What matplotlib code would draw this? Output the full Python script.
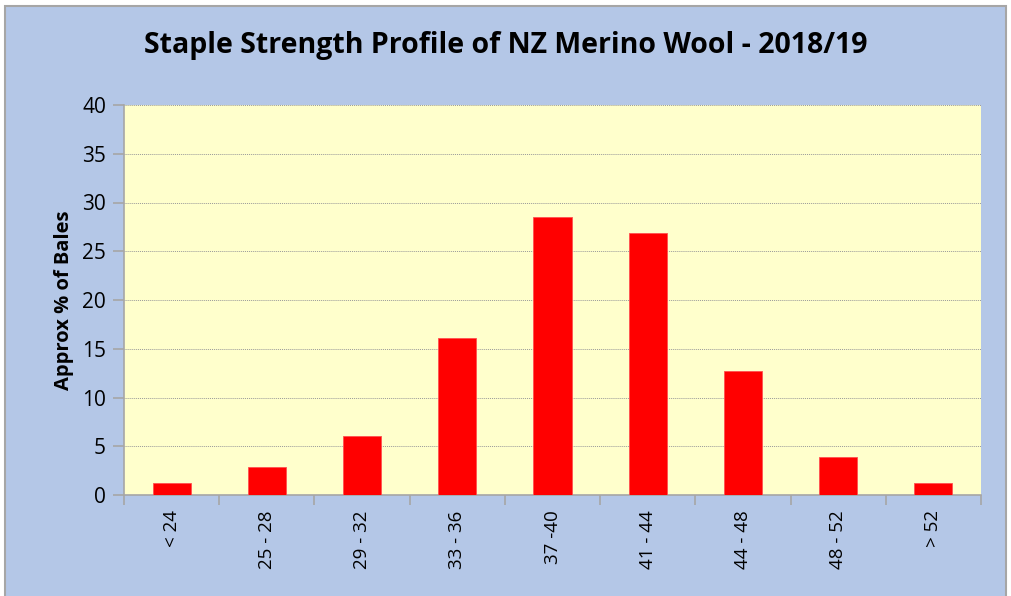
import matplotlib
matplotlib.use('Agg')
import matplotlib.pyplot as plt
from matplotlib.patches import Rectangle
import numpy as np

plt.rcParams['font.family'] = ['Open Sans', 'DejaVu Sans']

# data
categories = ['< 24', '25 - 28', '29 - 32', '33 - 36', '37 -40', '41 - 44', '44 - 48', '48 - 52', '> 52']
pct_bales = [1.2, 2.9, 6.1, 16.1, 28.5, 26.9, 12.7, 3.9, 1.2]
title = 'Staple Strength Profile of NZ Merino Wool - 2018/19'
y_label = 'Approx % of Bales'

my_dpi = 100
fig = plt.figure(figsize=(1011/my_dpi, 596/my_dpi), dpi=my_dpi, facecolor='white')

# blue chart area with grey frame
frame = Rectangle((5/1011, -0.01), 1001/1011, (590 + 6)/596, transform=fig.transFigure,
                  facecolor='#B4C7E7', edgecolor='#A6A6A6', linewidth=1.5, zorder=-5)
fig.patches.append(frame)

ax = fig.add_axes([124/1011, 101/596, 857/1011, 390/596])
ax.set_zorder(2)
ax.set_facecolor('#FFFFCC')

x = np.arange(len(categories))
ax.bar(x, pct_bales, width=0.4, color='#FF0000', edgecolor='#FF5050', linewidth=0.6, zorder=3)

ax.set_xlim(-0.5, len(categories) - 0.5)
ax.set_ylim(0, 40)
ax.set_yticks(np.arange(0, 41, 5))
ax.yaxis.grid(True, linestyle=(0, (1, 1)), color='#999999', linewidth=0.7, zorder=1)

ax.set_xticks(x)
ax.set_xticklabels(categories, rotation=90, fontsize=13.5)
ax.set_xticks(np.arange(-0.5, len(categories), 1), minor=True)
ax.tick_params(axis='x', which='major', length=0, pad=11)
ax.tick_params(axis='x', which='minor', length=7, color='#A6A6A6', width=1.2)
ax.tick_params(axis='y', length=8, color='#A6A6A6', width=1.2, labelsize=15, pad=5)

for s in ['top', 'right']:
    ax.spines[s].set_visible(False)
for s in ['left', 'bottom']:
    ax.spines[s].set_color('#A6A6A6')
    ax.spines[s].set_linewidth(1.2)

ax.set_ylabel(y_label, fontsize=14.5, fontweight='bold', labelpad=6)

fig.text(0.5, 1 - 46/596, title, ha='center', va='center', fontsize=20.5, fontweight='bold')

plt.savefig('out.png', dpi=my_dpi)
